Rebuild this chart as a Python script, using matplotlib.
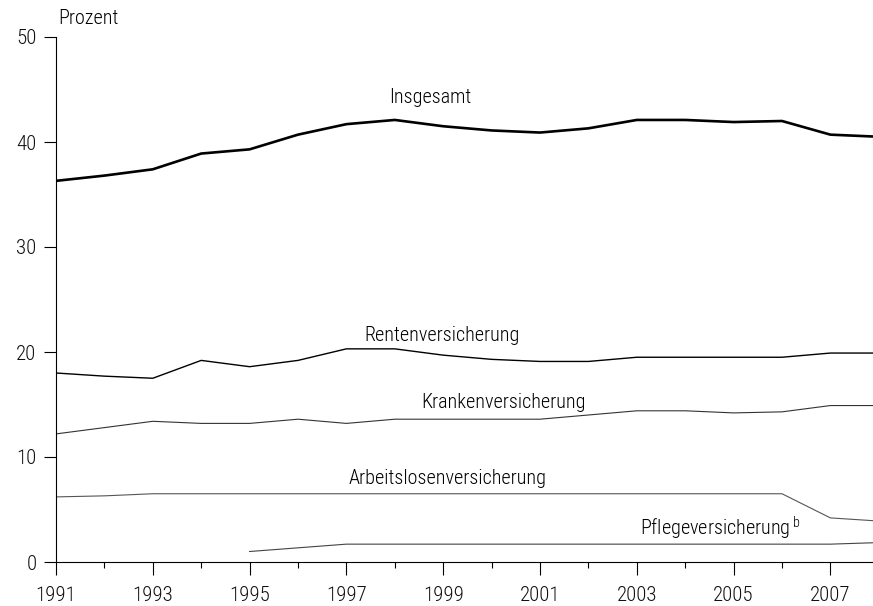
import numpy as np
import matplotlib.pyplot as plt

jahre = np.arange(1991, 2009)
insgesamt = [36.3, 36.8, 37.4, 38.9, 39.3, 40.7, 41.7, 42.1, 41.5, 41.1, 40.9, 41.3, 42.1, 42.1, 41.9, 42.0, 40.7, 40.5]
rente = [18.0, 17.7, 17.5, 19.2, 18.6, 19.2, 20.3, 20.3, 19.7, 19.3, 19.1, 19.1, 19.5, 19.5, 19.5, 19.5, 19.9, 19.9]
kranken = [12.2, 12.8, 13.4, 13.2, 13.2, 13.6, 13.2, 13.6, 13.6, 13.6, 13.6, 14.0, 14.4, 14.4, 14.2, 14.3, 14.9, 14.9]
arbeitslos = [6.2, 6.3, 6.5, 6.5, 6.5, 6.5, 6.5, 6.5, 6.5, 6.5, 6.5, 6.5, 6.5, 6.5, 6.5, 6.5, 4.2, 3.9]
pflege_jahre = np.arange(1995, 2009)
pflege = [1.0, 1.35, 1.7, 1.7, 1.7, 1.7, 1.7, 1.7, 1.7, 1.7, 1.7, 1.7, 1.7, 1.85]
xticks = list(range(1991, 2008, 2))

plt.rcParams['font.family'] = ['Roboto Condensed', 'Liberation Sans', 'DejaVu Sans']
plt.rcParams['font.weight'] = 'light'

fig = plt.figure(figsize=(8.73, 6.06), dpi=100)
ax = fig.add_axes([56/873, 1-562/606, (873-56)/873, (562-37)/606])

ax.plot(jahre, insgesamt, color='black', lw=1.9, solid_joinstyle='round')
ax.plot(jahre, rente, color='black', lw=1.0)
ax.plot(jahre, kranken, color='#333333', lw=0.8)
ax.plot(jahre, arbeitslos, color='#555555', lw=0.8)
ax.plot(pflege_jahre, pflege, color='#444444', lw=0.8)

ax.set_xlim(1991, 1991 + (873-56)/48.4)
ax.set_ylim(0, 50)
ax.set_xticks(xticks)
ax.set_xticks(range(1992, 2008, 2), minor=True)
ax.set_yticks(range(0, 51, 10))
ax.tick_params(axis='both', which='major', direction='out', length=9, width=0.8, labelsize=15, labelcolor='#111111')
ax.tick_params(axis='x', which='major', pad=8)
ax.tick_params(axis='y', which='major', pad=5)
ax.tick_params(axis='x', which='minor', direction='out', length=4, width=0.8)
for s in ['top', 'right']:
    ax.spines[s].set_visible(False)
for s in ['left', 'bottom']:
    ax.spines[s].set_linewidth(0.8)

fs = 14.5
ax.text(1998.73, 44.2, 'Insgesamt', ha='center', va='center', fontsize=fs)
ax.text(1998.98, 21.6, 'Rentenversicherung', ha='center', va='center', fontsize=fs)
ax.text(2000.24, 15.2, 'Krankenversicherung', ha='center', va='center', fontsize=fs)
ax.text(1999.08, 8.0, 'Arbeitslosenversicherung', ha='center', va='center', fontsize=fs)
ax.text(2003.07, 3.24, r'Pflegeversicherung$^{\mathregular{\,b}}$', ha='left', va='center', fontsize=fs)
fig.text(58/873, 1-18/606, 'Prozent', ha='left', va='center', fontsize=14.5)

plt.savefig('out.png', dpi=100)
